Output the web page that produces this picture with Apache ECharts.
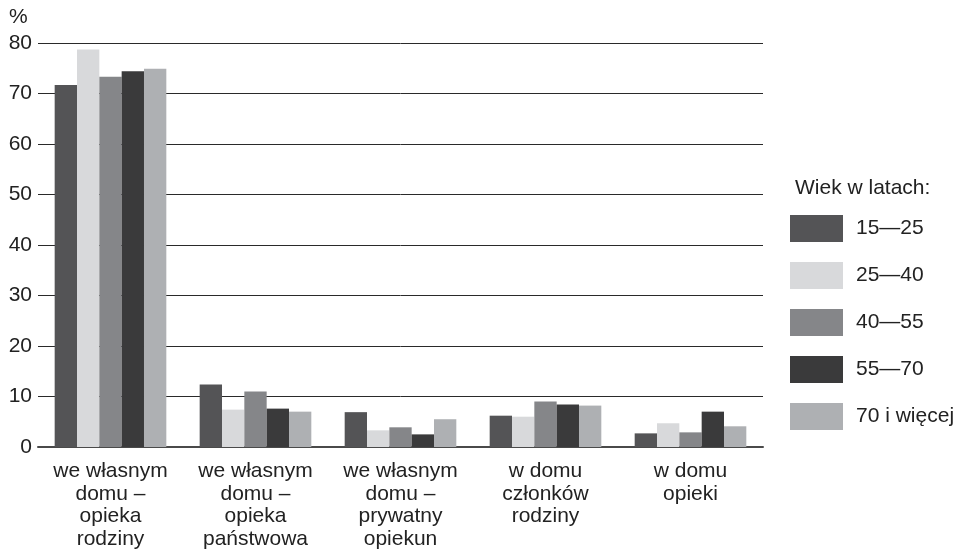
<!DOCTYPE html>
<html>
<head>
<meta charset="utf-8">
<script src="https://cdn.jsdelivr.net/npm/echarts@6/dist/echarts.min.js"></script>
<style>html,body{margin:0;padding:0;background:#fff}#c{width:956px;height:550px}</style>
</head>
<body>
<div id="c"></div>
<script>
const categories = ["we własnym\ndomu –\nopieka\nrodziny", "we własnym\ndomu –\nopieka\npaństwowa", "we własnym\ndomu –\nprywatny\nopiekun", "w domu\nczłonków\nrodziny", "w domu\nopieki"];
const seriesNames = ["15—25", "25—40", "40—55", "55—70", "70 i więcej"];
const s1525 = [71.7, 12.4, 6.9, 6.2, 2.7];
const s2540 = [78.7, 7.4, 3.3, 6.0, 4.7];
const s4055 = [73.3, 11.0, 3.9, 9.0, 2.9];
const s5570 = [74.4, 7.6, 2.5, 8.4, 7.0];
const s70 = [74.9, 7.0, 5.5, 8.2, 4.1];
const yTicks = [0, 10, 20, 30, 40, 50, 60, 70, 80];
const colors = ["#545456", "#d8d9db", "#858689", "#3a3a3b", "#aeb0b3"];
const allData = [s1525, s2540, s4055, s5570, s70];

const font = "Liberation Sans, Arial, sans-serif";
const chart = echarts.init(document.getElementById('c'));
chart.setOption({
  animation: false,
  title: [
    {text: "%", left: 4, top: 2, textStyle: {fontFamily: font, fontSize: 21, fontWeight: 'normal', color: '#222'}},
    {text: "Wiek w latach:", left: 790, top: 173, textStyle: {fontFamily: font, fontSize: 21, fontWeight: 'normal', color: '#222'}}
  ],
  grid: {left: 38, right: 193, top: 43, bottom: 102.5, containLabel: false},
  legend: {
    orient: 'vertical', left: 785, top: 210,
    itemWidth: 53, itemHeight: 27, itemGap: 20,
    icon: 'rect',
    textStyle: {fontFamily: font, fontSize: 21, color: '#222', padding: [0, 0, 0, 8]},
    data: seriesNames
  },
  xAxis: {
    type: 'category', data: categories,
    axisLine: {lineStyle: {color: '#4a4a4a', width: 2}},
    axisTick: {show: false},
    axisLabel: {fontFamily: font, fontSize: 21, color: '#222', lineHeight: 22.5, margin: 13, interval: 0}
  },
  yAxis: {
    type: 'value', min: 0, max: 80, interval: 10,
    axisLine: {show: false}, axisTick: {show: false},
    splitLine: {lineStyle: {color: '#2a2a2a', width: 1}},
    axisLabel: {fontFamily: font, fontSize: 21, color: '#222', margin: 6,
      formatter: v => yTicks.includes(v) ? String(v) : ''}
  },
  series: seriesNames.map((n, i) => ({
    name: n, type: 'bar', data: allData[i],
    barGap: '0%', barCategoryGap: '23%',
    itemStyle: {color: colors[i]}
  }))
});
</script>
</body>
</html>
